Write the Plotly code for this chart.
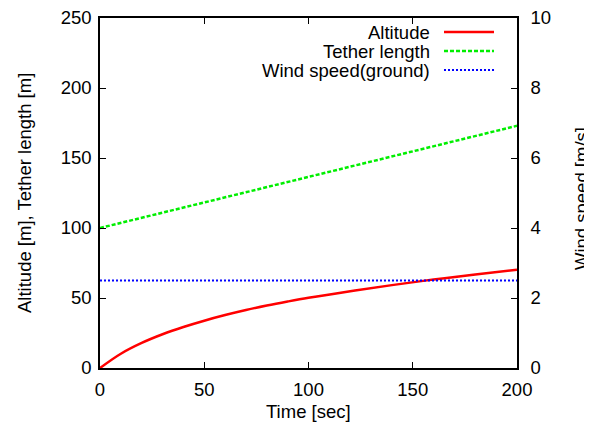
import plotly.graph_objects as go

time = [0, 10, 20, 30, 40, 50, 60, 70, 80, 90, 100, 120, 140, 160, 180, 200]
altitude = [0, 10.2, 17.9, 24.1, 29.3, 33.8, 37.8, 41.4, 44.6, 47.5, 50.2, 54.9, 59.2, 63.2, 66.8, 70.2]
tether_time = [0, 200]
tether_length = [100, 173]
wind_time = [0, 200]
wind_speed = [2.5, 2.5]

legend_names = ["Altitude", "Tether length", "Wind speed(ground)"]
colors = ["#ff0000", "#00ee00", "#0000ff"]
dashes = ["solid", "4px,2px", "2px,2px"]
widths = [2.5, 2.5, 2]

FONT = "Liberation Sans, Arial, sans-serif"
FS = 18.5

# the page body has an 8px margin; work in page pixels and shift
OFF = 8
W, H = 592 - OFF, 428 - OFF
L, R, T, B = 100 - OFF, 517 - OFF, 18 - OFF, 368 - OFF
PW, PH = R - L, B - T

def px(x):
    return (x - OFF - L) / PW

def py(y):
    return (B - (y - OFF)) / PH

fig = go.Figure()
fig.add_trace(go.Scatter(x=time, y=altitude, mode="lines", line=dict(color=colors[0], width=widths[0], dash=dashes[0], shape="spline", smoothing=1.0), name=legend_names[0]))
fig.add_trace(go.Scatter(x=tether_time, y=tether_length, mode="lines", line=dict(color=colors[1], width=widths[1], dash=dashes[1]), name=legend_names[1]))
fig.add_trace(go.Scatter(x=wind_time, y=wind_speed, mode="lines", yaxis="y2", line=dict(color=colors[2], width=widths[2], dash=dashes[2]), name=legend_names[2]))

# manual gnuplot-style legend (text right-aligned, sample to the right)
rows_y = [32, 51, 70]
for name, c, d, w, yy in zip(legend_names, colors, dashes, widths, rows_y):
    fig.add_annotation(xref="paper", yref="paper", x=px(432), y=py(yy),
                       text=name, showarrow=False, xanchor="right", yanchor="middle",
                       font=dict(family=FONT, size=FS, color="black"))
    fig.add_shape(type="line", xref="paper", yref="paper",
                  x0=px(444), x1=px(494), y0=py(yy), y1=py(yy),
                  line=dict(color=c, width=w, dash=d))

# axis titles
fig.add_annotation(xref="paper", yref="paper", x=px(308), y=py(411), text="Time [sec]",
                   showarrow=False, xanchor="center", yanchor="middle",
                   font=dict(family=FONT, size=FS, color="black"))
fig.add_annotation(xref="paper", yref="paper", x=px(24), y=py(193), text="Altitude [m], Tether length [m]",
                   showarrow=False, xanchor="center", yanchor="middle", textangle=-90,
                   font=dict(family=FONT, size=FS, color="black"))
fig.add_annotation(xref="paper", yref="paper", x=px(581), y=py(199), text="Wind speed [m/s]",
                   showarrow=False, xanchor="center", yanchor="middle", textangle=-90,
                   font=dict(family=FONT, size=FS, color="black"))

axis_common = dict(showline=True, linecolor="black", linewidth=1.5, ticks="inside", ticklen=6,
                   tickcolor="black", showgrid=False, zeroline=False, automargin=False,
                   ticklabeloverflow="allow",
                   tickfont=dict(family=FONT, size=FS, color="black"))

fig.update_layout(
    width=W, height=H,
    margin=dict(l=L, r=W - R, t=T, b=H - B),
    plot_bgcolor="white", paper_bgcolor="white",
    showlegend=False,
    xaxis=dict(range=[0, 200], dtick=50, mirror="ticks", ticklabelstandoff=4, **axis_common),
    yaxis=dict(range=[0, 250], dtick=50, mirror=True, ticklabelstandoff=3, **axis_common),
    yaxis2=dict(range=[0, 10], dtick=2, overlaying="y", side="right", ticklabelstandoff=8, **axis_common),
)

fig.write_html("out.html")
